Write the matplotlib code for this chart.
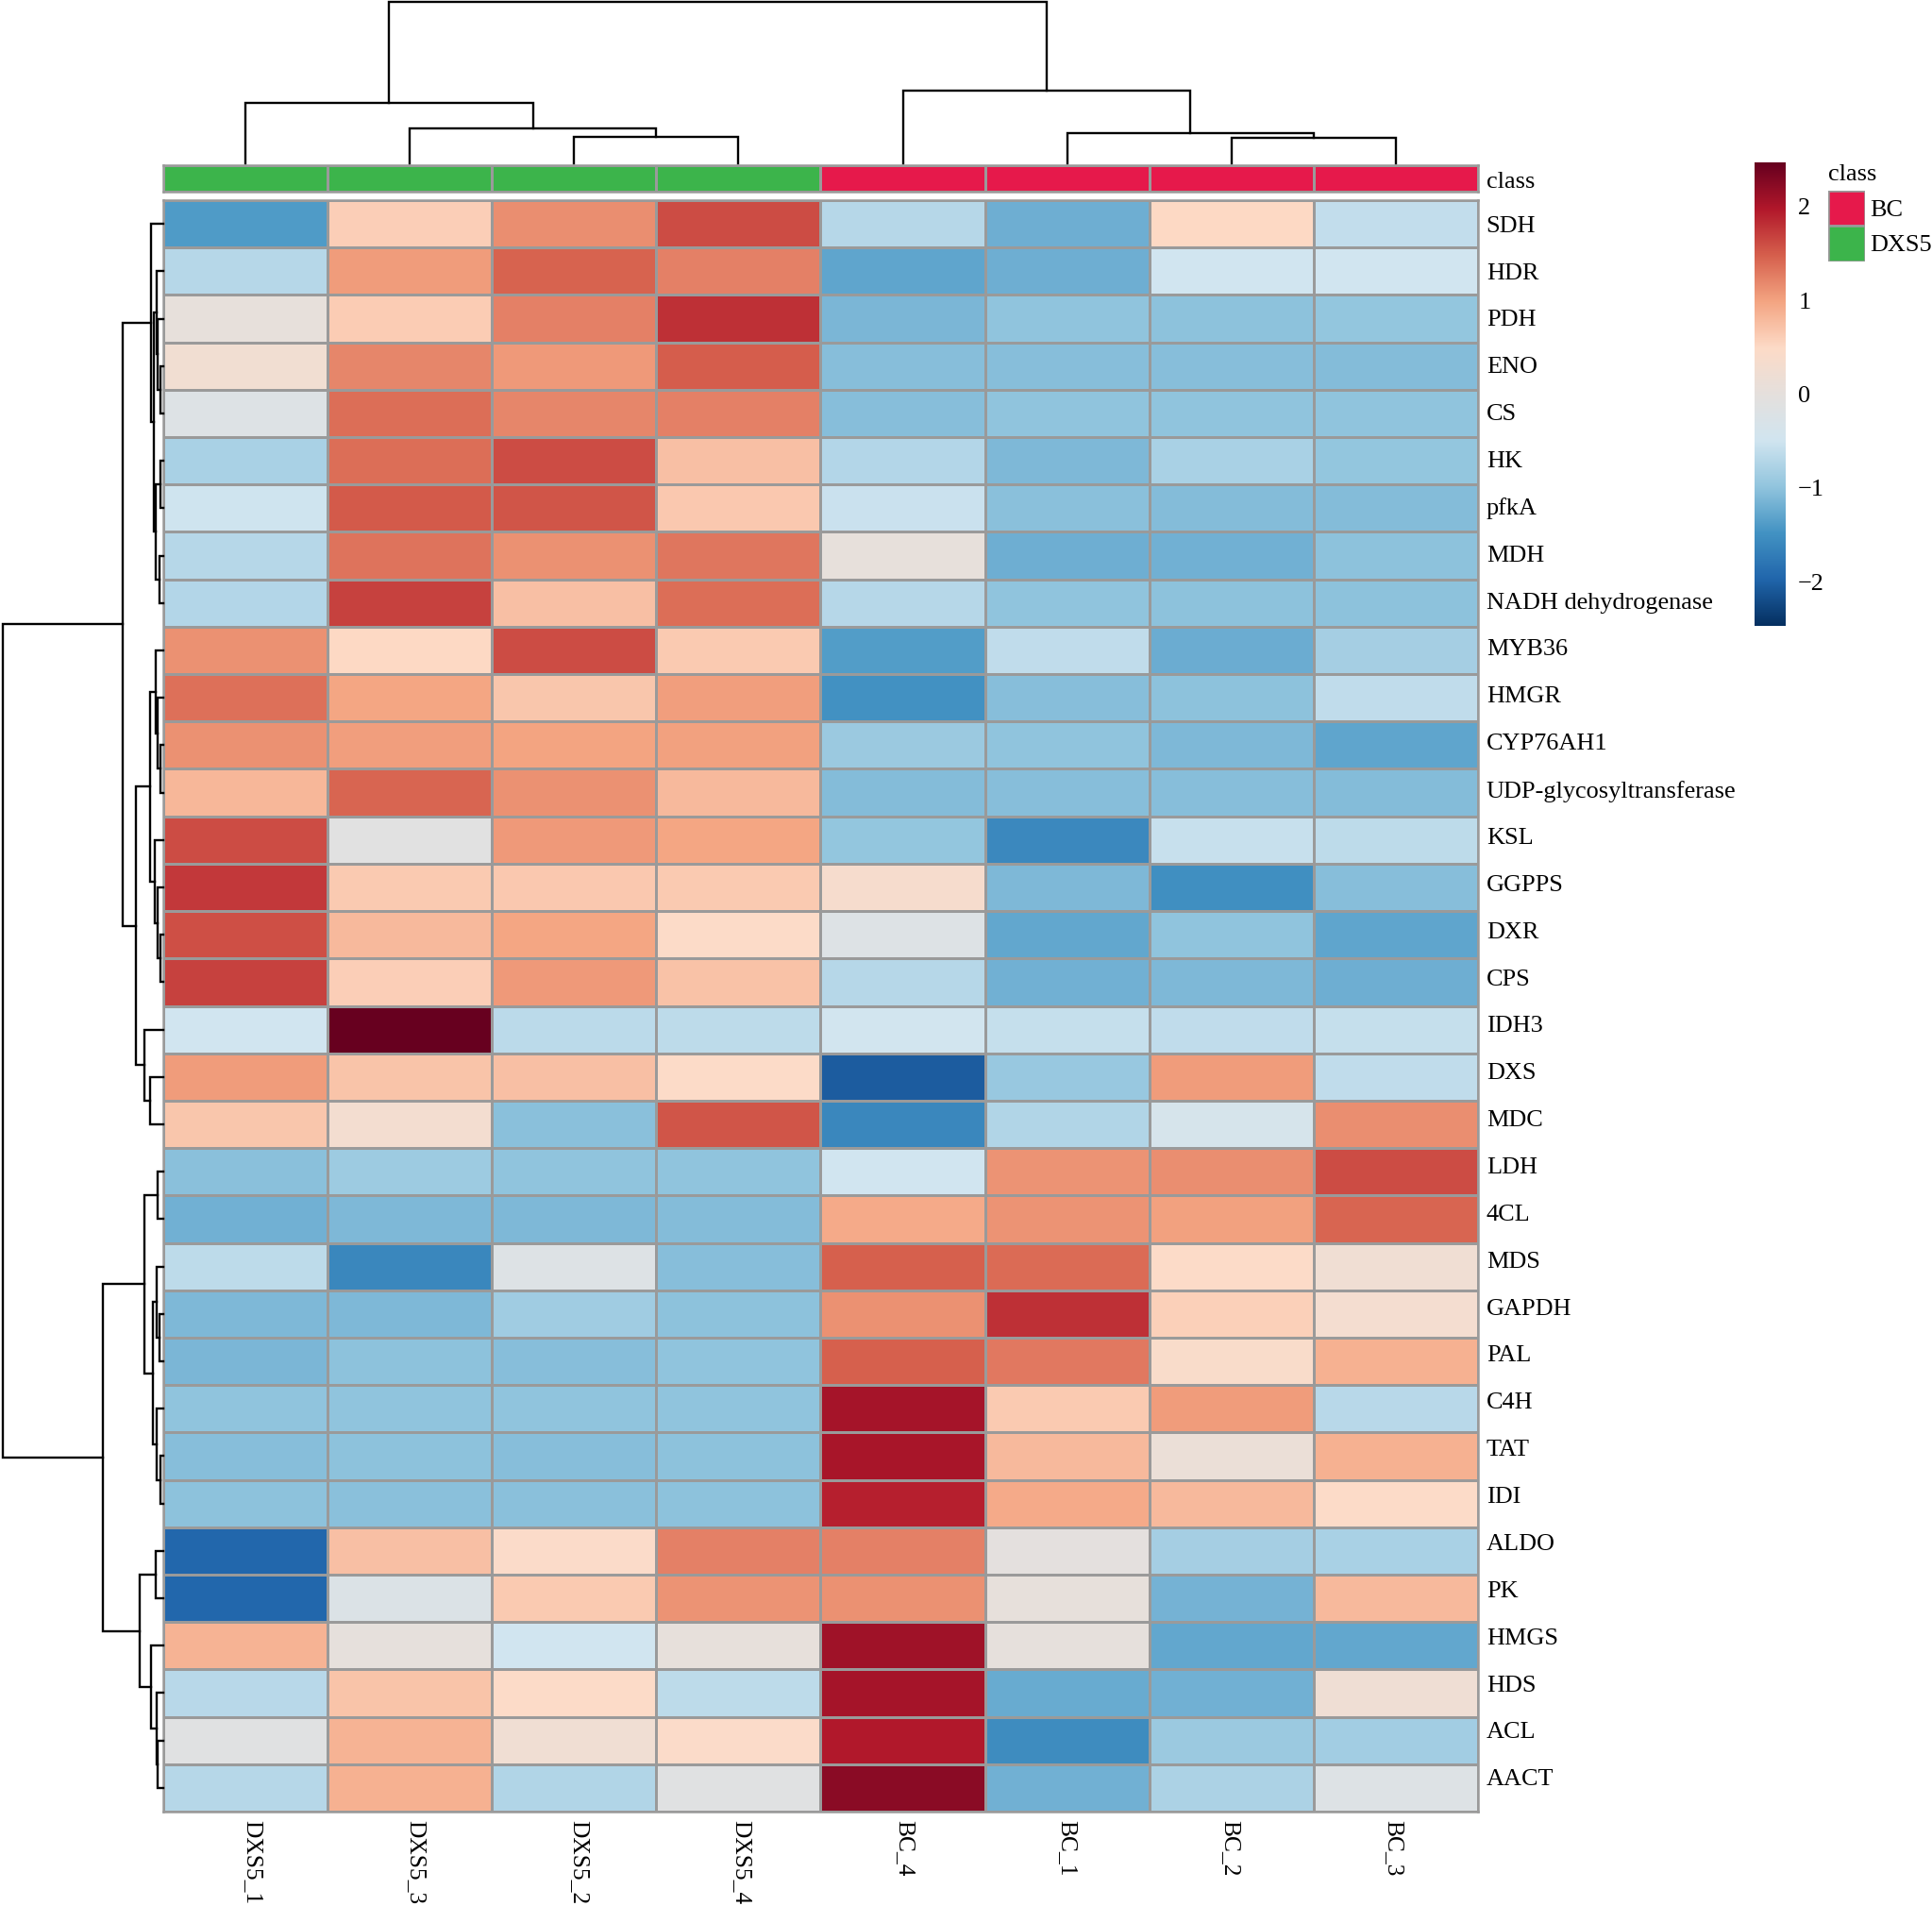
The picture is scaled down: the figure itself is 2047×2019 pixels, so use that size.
"""
Clustered heatmap of pathway gene expression (z-score), DXS5 vs BC samples.
Row and column dendrograms are drawn from merge tables, pheatmap style.
"""
import matplotlib
matplotlib.use("Agg")
import numpy as np
import matplotlib.pyplot as plt
from matplotlib.colors import LinearSegmentedColormap, ListedColormap
from matplotlib.patches import Rectangle

W, H = 2047, 2019

samples = ["DXS5_1", "DXS5_3", "DXS5_2", "DXS5_4", "BC_4", "BC_1", "BC_2", "BC_3"]
sample_class = [1, 1, 1, 1, 0, 0, 0, 0]
class_names = ["BC", "DXS5"]
class_colors = ["#E6194B", "#3CB44B"]

genes = ["SDH", "HDR", "PDH", "ENO", "CS", "HK", "pfkA", "MDH", "NADH dehydrogenase",
         "MYB36", "HMGR", "CYP76AH1", "UDP-glycosyltransferase", "KSL", "GGPPS", "DXR",
         "CPS", "IDH3", "DXS", "MDC", "LDH", "4CL", "MDS", "GAPDH", "PAL", "C4H", "TAT",
         "IDI", "ALDO", "PK", "HMGS", "HDS", "ACL", "AACT"]

zscores = [
    [-1.40, 0.60, 1.15, 1.62, -0.70, -1.20, 0.52, -0.60],
    [-0.70, 1.05, 1.45, 1.25, -1.30, -1.20, -0.50, -0.50],
    [0.05, 0.62, 1.25, 1.80, -1.12, -1.00, -1.02, -0.98],
    [0.25, 1.20, 1.07, 1.50, -1.05, -1.05, -1.05, -1.07],
    [-0.20, 1.38, 1.20, 1.25, -1.05, -1.00, -1.00, -1.00],
    [-0.80, 1.38, 1.62, 0.75, -0.72, -1.10, -0.80, -0.98],
    [-0.52, 1.52, 1.55, 0.67, -0.55, -1.04, -1.07, -1.07],
    [-0.70, 1.35, 1.12, 1.32, 0.05, -1.20, -1.18, -1.02],
    [-0.72, 1.68, 0.75, 1.38, -0.70, -1.00, -1.02, -1.02],
    [1.13, 0.52, 1.62, 0.65, -1.38, -0.63, -1.22, -0.83],
    [1.37, 0.98, 0.68, 1.03, -1.50, -1.05, -1.02, -0.63],
    [1.13, 1.03, 1.00, 1.02, -0.92, -1.00, -1.10, -1.30],
    [0.82, 1.43, 1.13, 0.80, -1.08, -1.05, -1.05, -1.07],
    [1.62, -0.10, 1.08, 0.98, -0.98, -1.60, -0.57, -0.65],
    [1.75, 0.65, 0.66, 0.64, 0.35, -1.10, -1.52, -1.05],
    [1.60, 0.80, 0.97, 0.48, -0.20, -1.28, -1.00, -1.30],
    [1.68, 0.60, 1.07, 0.72, -0.70, -1.18, -1.10, -1.20],
    [-0.50, 2.47, -0.67, -0.65, -0.47, -0.58, -0.62, -0.58],
    [1.05, 0.70, 0.75, 0.48, -2.05, -0.94, 1.05, -0.63],
    [0.68, 0.28, -1.03, 1.55, -1.62, -0.74, -0.35, 1.15],
    [-1.04, -0.90, -1.00, -1.00, -0.50, 1.10, 1.15, 1.62],
    [-1.18, -1.10, -1.10, -1.07, 0.93, 1.10, 1.02, 1.43],
    [-0.64, -1.62, -0.20, -1.05, 1.48, 1.40, 0.48, 0.22],
    [-1.10, -1.10, -0.88, -1.02, 1.13, 1.80, 0.58, 0.30],
    [-1.13, -1.02, -1.05, -1.00, 1.48, 1.30, 0.42, 0.88],
    [-1.00, -1.00, -1.00, -1.00, 2.06, 0.64, 1.05, -0.68],
    [-1.05, -1.02, -1.05, -1.02, 2.04, 0.80, 0.12, 0.88],
    [-1.02, -1.04, -1.04, -1.02, 1.92, 0.93, 0.80, 0.48],
    [-1.95, 0.75, 0.45, 1.25, 1.25, -0.03, -0.83, -0.80],
    [-1.95, -0.25, 0.64, 1.10, 1.13, 0.05, -1.17, 0.80],
    [0.85, 0.03, -0.50, 0.05, 2.10, 0.03, -1.28, -1.28],
    [-0.68, 0.70, 0.48, -0.64, 2.05, -1.25, -1.18, 0.20],
    [-0.12, 0.85, 0.22, 0.45, 1.98, -1.55, -0.92, -0.85],
    [-0.70, 0.87, -0.74, -0.12, 2.22, -1.18, -0.78, -0.20],
]

# merge tables: (left child, right child, height). Child ids below n are leaves,
# n + k is the k-th merge of the table.
row_merges = [
    (3, 4, 2.7), (2, 34, 5.7), (1, 35, 7.3),                 # 34-36
    (5, 6, 3.3), (7, 8, 4.3), (37, 38, 8.3),                 # 37-39
    (36, 39, 10.0), (0, 40, 13.3),                           # 40-41
    (11, 12, 3.3), (10, 42, 5.7), (9, 43, 8.3),              # 42-44
    (15, 16, 3.3), (14, 45, 5.7), (13, 46, 9.3),             # 45-47
    (44, 47, 14.0), (18, 19, 14.0), (17, 49, 19.7),          # 48-50
    (48, 50, 29.3), (41, 51, 42.7),                          # 51-52
    (20, 21, 5.7), (23, 24, 4.3), (22, 54, 6.7),             # 53-55
    (26, 27, 3.3), (25, 56, 7.3), (55, 57, 11.0),            # 56-58
    (53, 58, 19.7),                                          # 59
    (28, 29, 7.7), (32, 33, 5.7), (31, 61, 6.7),             # 60-62
    (30, 62, 12.7), (60, 63, 25.0),                          # 63-64
    (59, 64, 64.3), (52, 65, 170.0),                         # 65-66
]
col_merges = [
    (2, 3, 28.0), (1, 8, 37.3), (0, 9, 64.0),
    (6, 7, 27.0), (5, 11, 32.0), (4, 12, 77.3),
    (10, 13, 170.7),
]

# colour ramp stops
ramp = ["#053061", "#2166AC", "#4393C3", "#92C5DE", "#D1E5F0", "#E5E0DD",
        "#FDDBC7", "#F4A582", "#D6604D", "#B2182B", "#67001F"]
VMAX = 2.47
colorbar_ticks = [-2, -1, 0, 1, 2]

GRID = "#9A9A9A"
FS = 18.9
FS_COL = 18.3
plt.rcParams["font.family"] = ["Liberation Serif", "DejaVu Serif"]
plt.rcParams["axes.unicode_minus"] = False


def px_axes(fig, x0, y0, x1, y1):
    """Axes from pixel edges, y counted from the top of the image."""
    return fig.add_axes([x0 / W, 1 - y1 / H, (x1 - x0) / W, (y1 - y0) / H])


def draw_dendrogram(ax, merges, n, horizontal):
    """Walk the merge table; horizontal=True means root on the left."""
    pos = {i: i + 0.5 for i in range(n)}
    hgt = {i: 0.0 for i in range(n)}
    for k, (a, b, h) in enumerate(merges):
        xs = [pos[a], pos[a], pos[b], pos[b]]
        ys = [hgt[a], h, h, hgt[b]]
        if horizontal:
            ax.plot(ys, xs, color="black", lw=1.7, solid_joinstyle="miter",
                    solid_capstyle="projecting", clip_on=False)
        else:
            ax.plot(xs, ys, color="black", lw=1.7, solid_joinstyle="miter",
                    solid_capstyle="projecting", clip_on=False)
        pos[n + k] = (pos[a] + pos[b]) / 2
        hgt[n + k] = h


def main():
    cmap = LinearSegmentedColormap.from_list("rdbu", ramp, N=256)
    data = np.array(zscores)
    nrow, ncol = data.shape

    fig = plt.figure(figsize=(W / 100, H / 100), dpi=100, facecolor="white")

    # ---- main heatmap ----
    x0, x1, y0, y1 = 173, 1566, 212, 1919
    ax = px_axes(fig, x0, y0, x1, y1)
    ax.pcolormesh(np.arange(ncol + 1), np.arange(nrow + 1), data, cmap=cmap,
                  vmin=-VMAX, vmax=VMAX, edgecolors=GRID, linewidth=1.8)
    ax.set_xlim(0, ncol)
    ax.set_ylim(nrow, 0)
    ax.set_xticks([])
    ax.set_yticks([])
    for s in ax.spines.values():
        s.set_color(GRID)
        s.set_linewidth(1.8)
    # labels run on a slightly tighter pitch than the cells in the original
    for i, g in enumerate(genes):
        ax.text(ncol + 0.05, i * 0.9932 + 0.552, g, fontsize=FS, ha="left", va="center")
    for j, s in enumerate(samples):
        ax.text(j * 0.9915 + 0.5425, nrow + 0.17, s, fontsize=FS_COL, rotation=270,
                ha="center", va="top")

    # ---- class annotation strip ----
    ax_ann = px_axes(fig, x0, 175, x1, 203)
    ax_ann.pcolormesh(np.arange(ncol + 1), [0, 1], np.array([sample_class]),
                      cmap=ListedColormap(class_colors), vmin=0, vmax=1,
                      edgecolors=GRID, linewidth=1.8)
    ax_ann.set_xlim(0, ncol)
    ax_ann.set_xticks([])
    ax_ann.set_yticks([])
    for s in ax_ann.spines.values():
        s.set_color(GRID)
        s.set_linewidth(1.8)
    ax_ann.text(ncol + 0.05, 0.36, "class", fontsize=FS, ha="left", va="center")

    # ---- dendrograms (1 data unit = 1 pixel along the height axis) ----
    ax_top = px_axes(fig, x0, 0, x1, 173)
    draw_dendrogram(ax_top, col_merges, ncol, horizontal=False)
    ax_top.set_xlim(0, ncol)
    ax_top.set_ylim(0, 173)
    ax_top.axis("off")

    ax_left = px_axes(fig, 0, y0, x0, y1)
    draw_dendrogram(ax_left, row_merges, nrow, horizontal=True)
    ax_left.set_xlim(173, 0)
    ax_left.set_ylim(nrow, 0)
    ax_left.axis("off")

    # ---- colour bar ----
    ax_cb = px_axes(fig, 1859, 172, 1892, 663)
    grad = np.linspace(VMAX, -VMAX, 256).reshape(-1, 1)
    ax_cb.imshow(grad, cmap=cmap, vmin=-VMAX, vmax=VMAX, aspect="auto",
                 extent=[0, 1, -VMAX, VMAX])
    ax_cb.set_xticks([])
    ax_cb.set_yticks([])
    for s in ax_cb.spines.values():
        s.set_visible(False)
    for t in colorbar_ticks:
        lab = str(t).replace("-", "\u2212")
        ax_cb.text(1.4, t - 0.026, lab, fontsize=FS, ha="left", va="center")

    # ---- class legend ----
    ax_leg = px_axes(fig, 1937, 202, 1976, 277)
    for i, c in enumerate(class_colors):
        ax_leg.add_patch(Rectangle((0, i), 1, 1, facecolor=c, edgecolor=GRID, linewidth=1.8))
        ax_leg.text(1.14, i + 0.55, class_names[i], fontsize=FS, ha="left", va="center",
                    clip_on=False)
    ax_leg.set_xlim(0, 1)
    ax_leg.set_ylim(2, 0)
    ax_leg.axis("off")
    ax_leg.text(0, -0.16, "class", fontsize=FS, ha="left", va="bottom")

    fig.savefig("out.png", dpi=100, facecolor="white")
    plt.close(fig)


if __name__ == "__main__":
    main()
